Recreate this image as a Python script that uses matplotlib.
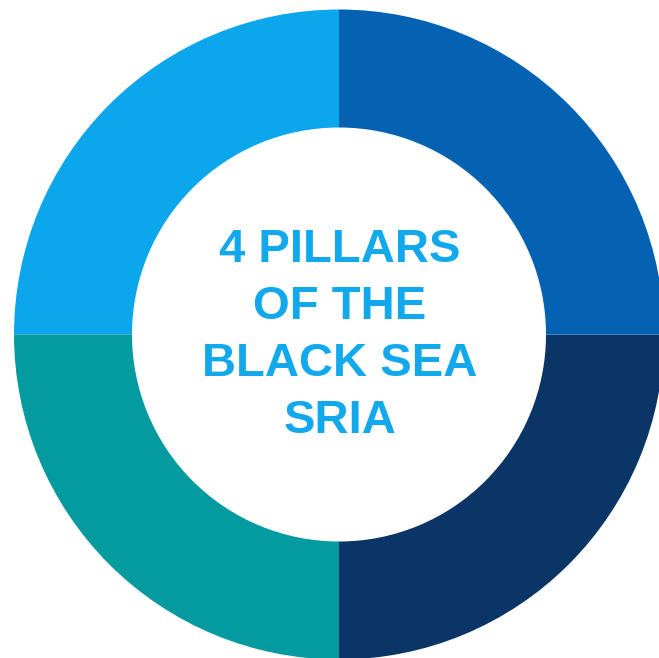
import matplotlib
matplotlib.use("Agg")
import matplotlib.pyplot as plt

pillars = ["Pillar 1", "Pillar 2", "Pillar 3", "Pillar 4"]
shares = [1, 1, 1, 1]
colors = ["#0BA6EC", "#039AA0", "#0A3566", "#0562B3"]
title_lines = ["4 PILLARS", "OF THE", "BLACK SEA", "SRIA"]

W, H = 659, 658
fig = plt.figure(figsize=(W / 100, H / 100), dpi=100)
ax = fig.add_axes([0, 0, 1, 1])
cx, cy = 339, H - 334.5
R, r_in = 325, 207
ax.pie(shares, colors=colors, startangle=90, counterclock=True,
       radius=R, center=(cx, cy),
       wedgeprops=dict(width=R - r_in, linewidth=0, antialiased=True))
ax.set_aspect("auto")
ax.set_xlim(0, W)
ax.set_ylim(0, H)
ax.axis("off")

baselines = [262, 319, 376, 433]
for txt, b in zip(title_lines, baselines):
    ax.text(cx + 1, H - b, txt, ha="center", va="baseline",
            fontsize=34, fontweight="bold", color="#12A9EC",
            family="Liberation Sans")

fig.savefig("out.png", dpi=100, facecolor="white")
